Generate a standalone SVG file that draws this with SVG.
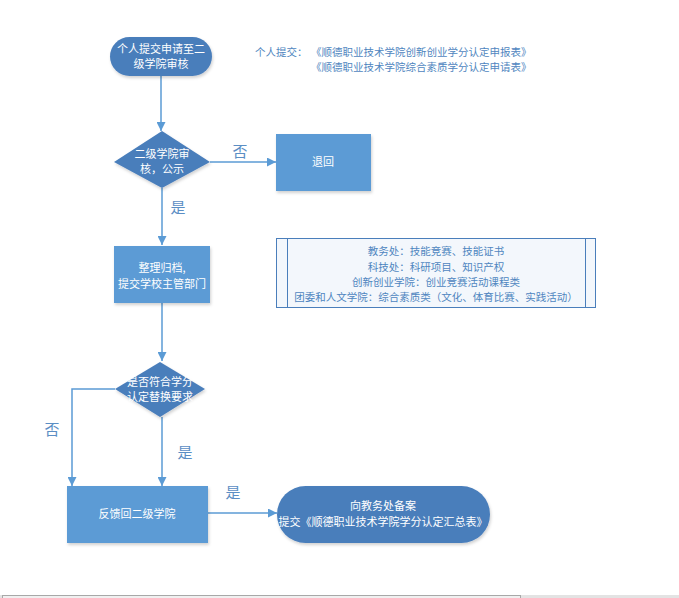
<svg xmlns="http://www.w3.org/2000/svg" width="679" height="598" viewBox="0 0 679 598">
<defs>
<marker id="arr" viewBox="0 0 10 10" refX="10" refY="5" markerWidth="9" markerHeight="9" markerUnits="userSpaceOnUse" orient="auto">
<path d="M0,0 L10,5 L0,10 z" fill="#5b9bd5"/>
</marker>
<filter id="sh" x="-10%" y="-10%" width="130%" height="130%">
<feDropShadow dx="1" dy="2" stdDeviation="1.5" flood-color="#000" flood-opacity="0.18"/>
</filter>
</defs>
<style>
text{font-family:"Noto Sans CJK SC","Liberation Sans",sans-serif;}
.term{fill:#4a7ebb;filter:url(#sh);}
.dia{fill:#4a7ebb;filter:url(#sh);}
.box{fill:#5b9bd5;filter:url(#sh);}
.wt{fill:#ffffff;font-size:11px;text-anchor:middle;}
.lbl{fill:#5b8ec4;font-size:15px;text-anchor:middle;}
.note{fill:#4f86c0;font-size:10.5px;}
.ln{fill:none;stroke:#5b9bd5;stroke-width:1.5;marker-end:url(#arr);}
</style>
<rect width="679" height="598" fill="#ffffff"/>

<g id="note-top">
<text class="note" x="255" y="56">个人提交：</text>
<text class="note" x="311" y="56">《顺德职业技术学院创新创业学分认定申报表》</text>
<text class="note" x="311" y="71">《顺德职业技术学院综合素质学分认定申请表》</text>
</g>

<g id="connectors">
<path class="ln" d="M161,76 L161,131"/>
<path class="ln" d="M210,162 L276,162"/>
<path class="ln" d="M162,188 L162,245"/>
<path class="ln" d="M162,303 L162,361"/>
<path class="ln" d="M115,389 L72,389 L72,486"/>
<path class="ln" d="M162,417 L162,486"/>
<path class="ln" d="M208,513 L277,513"/>
<text class="lbl" x="240" y="157">否</text>
<text class="lbl" x="178" y="213">是</text>
<text class="lbl" x="52" y="435">否</text>
<text class="lbl" x="185" y="458">是</text>
<text class="lbl" x="233" y="498">是</text>
</g>

<g id="start">
<rect class="term" x="110" y="37" width="102" height="39" rx="19.5"/>
<text class="wt" x="161" y="53">个人提交申请至二</text>
<text class="wt" x="161" y="68">级学院审核</text>
</g>

<g id="review">
<polygon class="dia" points="162,131 210,162 162,188 114,162"/>
<text class="wt" x="162" y="158">二级学院审</text>
<text class="wt" x="162" y="173">核，公示</text>
</g>

<g id="reject">
<rect class="box" x="276" y="134" width="95" height="57"/>
<text class="wt" x="323" y="166">退回</text>
</g>

<g id="archive">
<rect class="box" x="114" y="246" width="96" height="57"/>
<text class="wt" x="162" y="272">整理归档,</text>
<text class="wt" x="162" y="288">提交学校主管部门</text>
</g>

<g id="dept-note">
<rect x="276.5" y="238.5" width="319" height="69" fill="#f3f7fc" stroke="#4a7ebb" stroke-width="1"/>
<line x1="287.5" y1="238.5" x2="287.5" y2="307.5" stroke="#4a7ebb" stroke-width="1"/>
<line x1="585.5" y1="238.5" x2="585.5" y2="307.5" stroke="#4a7ebb" stroke-width="1"/>
<text class="note" x="436" y="255" text-anchor="middle">教务处：技能竞赛、技能证书</text>
<text class="note" x="436" y="271" text-anchor="middle">科技处：科研项目、知识产权</text>
<text class="note" x="436" y="286" text-anchor="middle">创新创业学院：创业竞赛活动课程类</text>
<text class="note" x="436" y="301" text-anchor="middle">团委和人文学院：综合素质类（文化、体育比赛、实践活动）</text>
</g>

<g id="check">
<polygon class="dia" points="160,362 205,389 160,417 115,389"/>
<text class="wt" x="160" y="386">是否符合学分</text>
<text class="wt" x="160" y="401">认定替换要求</text>
</g>

<g id="feedback">
<rect class="box" x="67" y="486" width="141" height="57"/>
<text class="wt" x="137" y="518">反馈回二级学院</text>
</g>

<g id="end">
<rect class="term" x="277" y="486" width="213" height="57" rx="28.5"/>
<text class="wt" x="383" y="510">向教务处备案</text>
<text class="wt" x="383" y="526">提交《顺德职业技术学院学分认定汇总表》</text>
</g>

<g id="scrollbar">
<rect x="0" y="595" width="679" height="3" fill="#e3e3e3"/>
<rect x="2.5" y="595.5" width="518" height="3" fill="#f0f0f0" stroke="#a8a8a8" stroke-width="1"/>
</g>
</svg>
